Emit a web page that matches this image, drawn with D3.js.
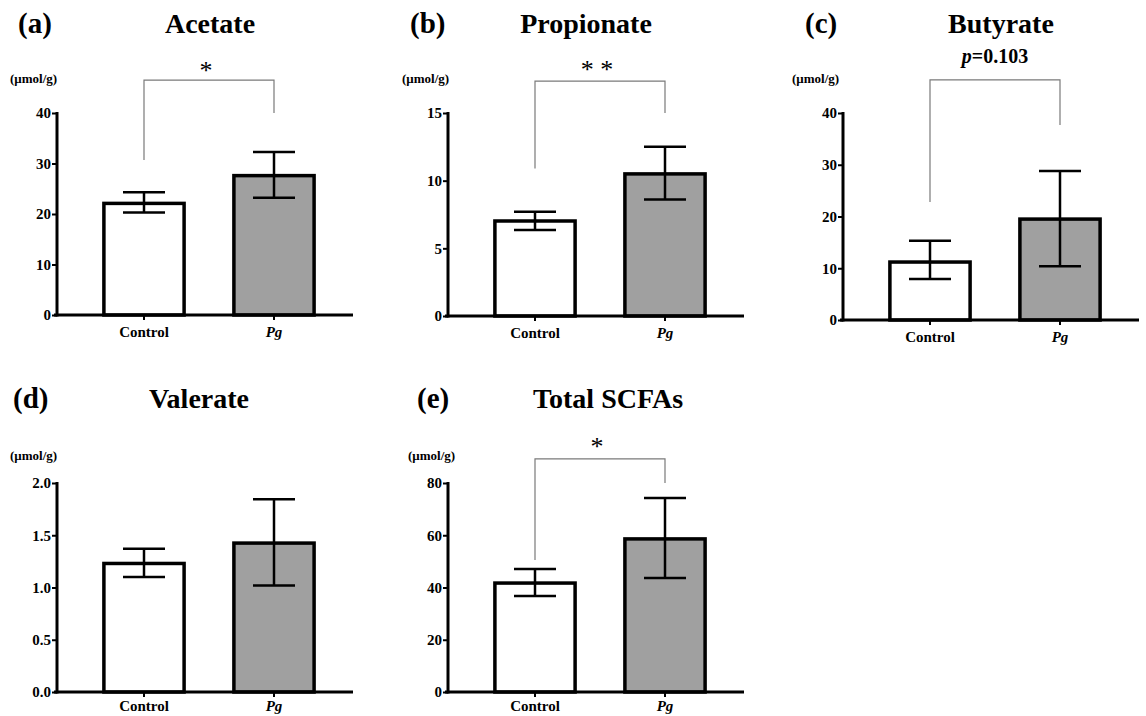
<!DOCTYPE html>
<html>
<head>
<meta charset="utf-8">
<script src="https://cdn.jsdelivr.net/npm/d3@7"></script>
<style>
  html, body { margin: 0; padding: 0; background: #fff; }
  svg { display: block; }
</style>
</head>
<body>
<svg id="chart" width="1146" height="716"></svg>
<script>
// ---------- data ----------
const categories = ["Control", "Pg"];
const panelLetters = ["(a)", "(b)", "(c)", "(d)", "(e)"];
const panelTitles = ["Acetate", "Propionate", "Butyrate", "Valerate", "Total SCFAs"];
const unitLabel = "(μmol/g)";

const acetateMean = [22.1, 27.6];
const acetateErr = [[20.3, 24.3], [23.2, 32.3]];
const propionateMean = [7.02, 10.5];
const propionateErr = [[6.35, 7.7], [8.6, 12.5]];
const butyrateMean = [11.2, 19.5];
const butyrateErr = [[7.9, 15.3], [10.4, 28.8]];
const valerateMean = [1.23, 1.425];
const valerateErr = [[1.10, 1.37], [1.02, 1.845]];
const totalMean = [41.7, 58.6];
const totalErr = [[36.7, 47.1], [43.6, 74.3]];

const yMax = [40, 15, 40, 2.0, 80];
const yTicks = [
  [0, 10, 20, 30, 40],
  [0, 5, 10, 15],
  [0, 10, 20, 30, 40],
  [0, 0.5, 1.0, 1.5, 2.0],
  [0, 20, 40, 60, 80]
];
const tickFormats = ["d", "d", "d", ".1f", "d"];

// significance annotations: label, bracket height, left leg end, right leg end (in data units)
const sigLabels = ["*", "* *", "p=0.103", null, "*"];
const bracketTop = [46.5, 17.35, 46.4, null, 89.2];
const bracketLegs = [[30.7, 40], [10.9, 15], [22.8, 37.7], null, [50.5, 80]];

const seriesMeans = [acetateMean, propionateMean, butyrateMean, valerateMean, totalMean];
const seriesErrs = [acetateErr, propionateErr, butyrateErr, valerateErr, totalErr];

const FONT = '"Liberation Serif", "Times New Roman", serif';

// ---------- layout ----------
const layout = [
  { ox: 57,  top: 113, bottom: 315, letterX: 18,  titleX: 210,  titleY: 33,  unitX: 10,  unitY: 83,  sigY: 79 },
  { ox: 448, top: 113, bottom: 316, letterX: 410, titleX: 586,  titleY: 33,  unitX: 402, unitY: 83,  sigY: 78 },
  { ox: 843, top: 113, bottom: 320, letterX: 805, titleX: 1001, titleY: 33,  unitX: 792, unitY: 83,  sigY: 63 },
  { ox: 57,  top: 483, bottom: 692, letterX: 13,  titleX: 199,  titleY: 408, unitX: 10,  unitY: 460, sigY: 0 },
  { ox: 448, top: 483, bottom: 692, letterX: 417, titleX: 608,  titleY: 408, unitX: 408, unitY: 460, sigY: 455 }
];
const fills = ["#ffffff", "#a0a0a0"];

const svg = d3.select("#chart");

const x = d3.scaleBand().domain(categories).range([22, 282]).paddingInner(0.36).paddingOuter(0.18);

function txt(sel) {
  return sel.attr("font-family", FONT).attr("font-weight", "bold").attr("fill", "#000");
}

layout.forEach((L, i) => {
  // panel letter + title + unit
  txt(svg.append("text")).attr("x", L.letterX).attr("y", L.titleY)
    .attr("font-size", 29).text(panelLetters[i]);
  txt(svg.append("text")).attr("x", L.titleX).attr("y", L.titleY)
    .attr("font-size", 28).attr("text-anchor", "middle").text(panelTitles[i]);
  txt(svg.append("text")).attr("x", L.unitX).attr("y", L.unitY)
    .attr("font-size", 13).text(unitLabel);

  const g = svg.append("g").attr("transform", `translate(${L.ox},0)`);
  const y = d3.scaleLinear().domain([0, yMax[i]]).range([L.bottom, L.top]);

  // bars
  const means = seriesMeans[i], errs = seriesErrs[i];
  g.selectAll("rect.bar").data(categories).join("rect")
    .attr("class", "bar")
    .attr("x", d => x(d) + 1.5)
    .attr("width", x.bandwidth() - 3)
    .attr("y", (d, j) => y(means[j]))
    .attr("height", (d, j) => L.bottom - y(means[j]))
    .attr("fill", (d, j) => fills[j])
    .attr("stroke", "#000").attr("stroke-width", 3.5);

  // error bars
  const capHalf = 21;
  categories.forEach((c, j) => {
    const cx = x(c) + x.bandwidth() / 2;
    const [lo, hi] = errs[j];
    g.append("line").attr("x1", cx).attr("x2", cx).attr("y1", y(lo)).attr("y2", y(hi))
      .attr("stroke", "#000").attr("stroke-width", 2.5);
    [lo, hi].forEach(v => {
      g.append("line").attr("x1", cx - capHalf).attr("x2", cx + capHalf)
        .attr("y1", y(v)).attr("y2", y(v))
        .attr("stroke", "#000").attr("stroke-width", 2.5);
    });
  });

  // y axis
  const yAxis = d3.axisLeft(y).tickValues(yTicks[i]).tickSize(5).tickSizeOuter(0)
    .tickFormat(d3.format(tickFormats[i]));
  const ya = g.append("g").call(yAxis).attr("font-family", FONT);
  ya.select(".domain").attr("stroke", "#000").attr("stroke-width", 3)
    .attr("d", `M0,${L.top - 1}V${L.bottom + 1.5}`);
  ya.selectAll(".tick line").attr("stroke", "#000").attr("stroke-width", 2);
  txt(ya.selectAll(".tick text")).attr("font-size", 15).attr("x", -6);

  // x axis
  const xAxis = d3.axisBottom(x).tickSize(5).tickSizeOuter(0);
  const xa = g.append("g").attr("transform", `translate(0,${L.bottom})`).call(xAxis).attr("font-family", FONT);
  xa.select(".domain").attr("stroke", "#000").attr("stroke-width", 3).attr("d", "M-3,0H296");
  xa.selectAll(".tick line").attr("stroke", "#000").attr("stroke-width", 2);
  txt(xa.selectAll(".tick text")).attr("font-size", 15).attr("y", i >= 3 ? 19 : 22).attr("dy", null)
    .attr("font-style", d => d === "Pg" ? "italic" : "normal");

  // significance bracket
  if (sigLabels[i]) {
    const x1 = x(categories[0]) + x.bandwidth() / 2;
    const x2 = x(categories[1]) + x.bandwidth() / 2;
    const yb = y(bracketTop[i]);
    g.append("path")
      .attr("d", `M${x1},${y(bracketLegs[i][0])}V${yb}H${x2}V${y(bracketLegs[i][1])}`)
      .attr("fill", "none").attr("stroke", "#7a7a7a").attr("stroke-width", 1.2);
    const lab = sigLabels[i];
    if (lab.startsWith("p=")) {
      const t = txt(g.append("text")).attr("x", (x1 + x2) / 2).attr("y", L.sigY)
        .attr("text-anchor", "middle").attr("font-size", 20);
      t.append("tspan").attr("font-style", "italic").text("p");
      t.append("tspan").text(lab.slice(1));
    } else {
      txt(g.append("text")).attr("x", (x1 + x2) / 2 - 3).attr("y", L.sigY)
        .attr("text-anchor", "middle").attr("font-size", 26).attr("font-weight", "normal")
        .text(lab);
    }
  }
});
</script>
</body>
</html>
